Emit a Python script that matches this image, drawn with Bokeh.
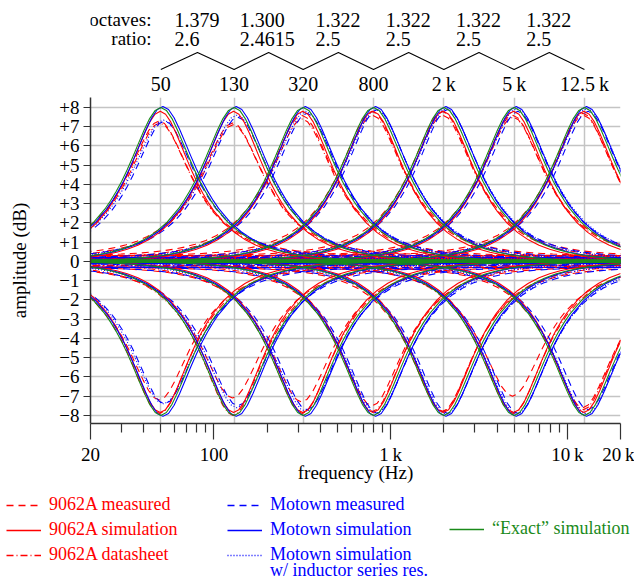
import math
from bokeh.plotting import figure
from bokeh.models import Range1d, FixedTicker, Legend, LegendItem, ColumnDataSource
from bokeh.layouts import column
from bokeh.embed import file_html
from bokeh.resources import INLINE
from bokeh.core.properties import value

# ---------------- data ----------------
bands = [50, 130, 320, 800, 2000, 5000, 12500]
band_labels = ["50", "130", "320", "800", "2\u2009k", "5\u2009k", "12.5\u2009k"]
octaves_vals = ["1.379", "1.300", "1.322", "1.322", "1.322", "1.322"]
ratio_vals = ["2.6", "2.4615", "2.5", "2.5", "2.5", "2.5"]

x_ticks = [20, 100, 1000, 10000, 20000]
x_tick_labels = ["20", "100", "1\u2009k", "10\u2009k", "20\u2009k"]
x_minor = [30, 40, 50, 60, 70, 80, 90, 200, 300, 400, 500, 600, 700, 800, 900,
           2000, 3000, 4000, 5000, 6000, 7000, 8000, 9000]
y_ticks = [-8, -7, -6, -5, -4, -3, -2, -1, 0, 1, 2, 3, 4, 5, 6, 7, 8]
y_tick_labels = ["\u22128", "\u22127", "\u22126", "\u22125", "\u22124", "\u22123", "\u22122", "\u22121",
                 "0", "+1", "+2", "+3", "+4", "+5", "+6", "+7", "+8"]

# response shape (fraction of peak dB) vs distance from band centre (octaves)
profile_oct = [0, 0.1, 0.2, 0.3, 0.4, 0.5, 0.6, 0.7, 0.8, 0.9, 1.0, 1.2, 1.4, 1.6, 1.8,
               2.0, 2.2, 2.4, 2.6, 2.8, 3.0, 3.2, 3.4, 3.6, 3.8, 4.0, 4.5, 5.0, 6.0, 8.0, 10.0]
profile_frac = [1.000, 0.981, 0.928, 0.852, 0.767, 0.680, 0.597, 0.521, 0.454, 0.394, 0.341,
                0.256, 0.192, 0.144, 0.1085, 0.0818, 0.0616, 0.0465, 0.0352, 0.0266, 0.0201,
                0.0152, 0.0116, 0.0087, 0.0066, 0.0050, 0.0025, 0.0012, 0.0003, 0.0, 0.0]

# per series: peak boost, peak cut (dB), skirt levels, zero-setting levels
ds_boost = [7.2, 7.1, 7.4, 7.6, 7.6, 7.5, 7.6]
ds_cut = [-7.9, -8.0, -7.9, -7.8, -7.8, -7.9, -7.7]
ds_skirt = [0.2, -0.2]

meas9_boost = [7.3, 7.2, 7.6, 7.8, 7.8, 7.6, 7.7]
meas9_cut = [-7.2, -7.1, -7.3, -7.5, -7.8, -7.0, -7.6]
meas9_skirt = [0.3, -0.3]
meas9_flat = [0.35, 0.3, 0.35, 0.3, 0.35, 0.35, 0.3]
meas9_flat_base = 0.15

sim9_boost = [7.8, 7.8, 7.8, 7.8, 7.8, 7.8, 7.8]
sim9_cut = [-7.85, -7.85, -7.85, -7.85, -7.85, -7.85, -7.85]
sim9_flat = [0.08, 0.08, 0.08, 0.08, 0.08, 0.08, 0.08]

motm_boost = [7.3, 7.5, 7.7, 7.9, 7.9, 7.8, 7.8]
motm_cut = [-7.4, -7.5, -7.7, -7.9, -7.9, -7.9, -7.7]
motm_skirt = [0.2, -0.3]
motm_flat = [-0.25, -0.25, -0.25, -0.25, -0.25, -0.25, -0.25]
motm_flat_base = -0.1

mots_boost = [8.05, 8.05, 8.05, 8.05, 8.05, 8.05, 8.05]
mots_cut = [-8.05, -8.05, -8.05, -8.05, -8.05, -8.05, -8.05]
mots_flat = [-0.05, -0.05, -0.05, -0.05, -0.05, -0.05, -0.05]

motr_boost = [7.35, 7.6, 7.8, 7.9, 7.95, 7.95, 7.95]
motr_cut = [-7.4, -7.6, -7.8, -7.9, -7.95, -7.95, -7.95]
motr_skirt = [0.1, -0.1]
motr_flat = [0.12, 0.12, 0.12, 0.12, 0.12, 0.12, 0.12]
motr_flat_base = 0.05

exact_boost = [8.0, 8.0, 8.0, 8.0, 8.0, 8.0, 8.0]
exact_cut = [-8.0, -8.0, -8.0, -8.0, -8.0, -8.0, -8.0]
exact_flat = [0.0, 0.0, 0.0, 0.0, 0.0, 0.0, 0.0]

RED = "#ff0000"
BLUE = "#0000ff"
GREEN = "#1a8a1a"
FONT = "Liberation Serif"

# ---------------- layout constants (pixels) ----------------
LEFT, FW, RIGHT = 90, 530, 14
W = LEFT + FW + RIGHT
HDR_H, FH, BOT, LEG_H = 97, 326, 70, 89

oct_full = [-o for o in profile_oct[:0:-1]] + profile_oct
frac_full = profile_frac[:0:-1] + profile_frac


def band_curves(shift, width, peaks, base):
    xs, ys = [], []
    for fc, pk in zip(bands, peaks):
        xs.append([fc * 2 ** (shift + width * d) for d in oct_full])
        ys.append([base + (pk - base) * f for f in frac_full])
    return xs, ys


series = [
    dict(key="ds", color=RED, dash="7 3 1 3", shift=-0.02, width=1.0,
         boost=ds_boost, cut=ds_cut, skirt=ds_skirt, flat=None, fbase=0.0, fw=1),
    dict(key="meas9", color=RED, dash="7 5", shift=-0.03, width=1.0,
         boost=meas9_boost, cut=meas9_cut, skirt=meas9_skirt, flat=meas9_flat, fbase=meas9_flat_base, fw=1),
    dict(key="motm", color=BLUE, dash="7 5", shift=0.07, width=1.0,
         boost=motm_boost, cut=motm_cut, skirt=motm_skirt, flat=motm_flat, fbase=motm_flat_base, fw=1),
    dict(key="motr", color=BLUE, dash="1 2", shift=0.05, width=1.05,
         boost=motr_boost, cut=motr_cut, skirt=motr_skirt, flat=motr_flat, fbase=motr_flat_base, fw=1),
    dict(key="sim9", color=RED, dash="solid", shift=-0.01, width=1.0,
         boost=sim9_boost, cut=sim9_cut, skirt=[0.0, 0.0], flat=sim9_flat, fbase=0.0, fw=1.2),
    dict(key="mots", color=BLUE, dash="solid", shift=0.04, width=1.05,
         boost=mots_boost, cut=mots_cut, skirt=[0.0, 0.0], flat=mots_flat, fbase=0.0, fw=1.4),
    dict(key="exact", color=GREEN, dash="solid", shift=0.0, width=1.05,
         boost=exact_boost, cut=exact_cut, skirt=[0.0, 0.0], flat=exact_flat, fbase=0.0, fw=3.2),
]

# ---------------- main plot ----------------
p = figure(x_axis_type="log", x_range=Range1d(20, 20000), y_range=Range1d(-8.42, 8.52),
           frame_width=FW, frame_height=FH, min_border_left=LEFT, min_border_right=RIGHT,
           min_border_top=0, min_border_bottom=BOT,
           output_backend="svg", toolbar_location=None)
p.outline_line_color = None

curve_data = {}
for s in series:
    bx, by = band_curves(s["shift"], s["width"], s["boost"], s["skirt"][0])
    cx, cy = band_curves(s["shift"], s["width"], s["cut"], s["skirt"][1])
    curve_data[s["key"]] = (bx[0], by[0])
    p.multi_line(xs=bx + cx, ys=by + cy, line_color=s["color"], line_width=1.1,
                 line_dash=s["dash"])
    if s["flat"] is not None:
        fx, fy = band_curves(s["shift"], s["width"], s["flat"], s["fbase"])
        p.multi_line(xs=fx, ys=fy, line_color=s["color"], line_width=s["fw"], line_dash=s["dash"])

p.xaxis.ticker = FixedTicker(ticks=x_ticks, minor_ticks=x_minor)
p.xaxis.major_label_overrides = dict(zip(x_ticks, x_tick_labels))
p.xgrid.ticker = FixedTicker(ticks=bands)
p.yaxis.ticker = FixedTicker(ticks=y_ticks)
p.yaxis.major_label_overrides = dict(zip(y_ticks, y_tick_labels))
p.ygrid.ticker = FixedTicker(ticks=y_ticks)
p.grid.grid_line_color = "#c4c4c4"
p.grid.grid_line_width = 1.5

for ax in (p.xaxis[0], p.yaxis[0]):
    ax.axis_line_color = "#333333"
    ax.axis_line_width = 1.5
    ax.major_tick_line_color = "#333333"
    ax.minor_tick_line_color = "#333333"
    ax.major_tick_line_width = 1.2
    ax.minor_tick_line_width = 1.2
    ax.major_tick_in = 0
    ax.minor_tick_in = 0
    ax.major_label_text_font = FONT
    ax.major_label_text_font_size = "19px"
    ax.major_label_text_color = "black"
    ax.axis_label_text_font = FONT
    ax.axis_label_text_font_size = "19px"
    ax.axis_label_text_font_style = "normal"
    ax.axis_label_text_color = "black"

p.xaxis.major_tick_out = 16
p.xaxis.minor_tick_out = 9
p.xaxis.major_label_standoff = 4
p.xaxis.axis_label = "frequency (Hz)"
p.xaxis.axis_label_standoff = -6
p.yaxis.major_tick_out = 7
p.yaxis.minor_tick_out = 0
p.yaxis.major_label_standoff = 4
p.yaxis.axis_label = "amplitude (dB)"
p.yaxis.axis_label_standoff = 26

# ---------------- header (band labels, octave table) ----------------
h = figure(x_axis_type="log", x_range=p.x_range, y_range=Range1d(0, HDR_H),
           frame_width=FW, frame_height=HDR_H, min_border_left=LEFT, min_border_right=RIGHT,
           min_border_top=0, min_border_bottom=0, x_axis_location=None, y_axis_location=None,
           output_backend="svg", toolbar_location=None)
h.outline_line_color = None
h.grid.visible = False

mids = [math.sqrt(a * b) for a, b in zip(bands[:-1], bands[1:])]
zig_x, zig_y = [], []
for i, b in enumerate(bands):
    zig_x.append(b)
    zig_y.append(28)
    if i < len(mids):
        zig_x.append(mids[i])
        zig_y.append(45)
h.line(zig_x, zig_y, line_color="black", line_width=1.1)

h.text(x=bands, y=[14] * len(bands), text=band_labels, text_align="center",
       text_baseline="middle", text_font=value(FONT), text_font_size="20px", text_color="black")

col_off = [-23, -29, -23, -23, -23, -23]
tsrc = ColumnDataSource(dict(x=mids, xo=col_off, oc=octaves_vals, ra=ratio_vals,
                             y1=[78] * 6, y2=[59] * 6))
h.text(x="x", y="y1", text="oc", x_offset="xo", source=tsrc, text_align="left",
       text_baseline="middle", text_font=value(FONT), text_font_size="20px", text_color="black")
h.text(x="x", y="y2", text="ra", x_offset="xo", source=tsrc, text_align="left",
       text_baseline="middle", text_font=value(FONT), text_font_size="20px", text_color="black")
h.text(x=[mids[0], mids[0]], y=[78, 59], text=["octaves:", "ratio:"], x_offset=-46,
       text_align="right", text_baseline="middle", text_font=value(FONT),
       text_font_size="19px", text_color="black")

# ---------------- legend panel ----------------
lg = figure(x_axis_type="log", x_range=Range1d(20, 20000), y_range=Range1d(100, 101),
            frame_width=W, frame_height=LEG_H, min_border_left=0, min_border_right=0,
            min_border_top=0, min_border_bottom=0, x_axis_location=None, y_axis_location=None,
            output_backend="svg", toolbar_location=None)
lg.outline_line_color = None
lg.grid.visible = False

keys = {}
for s in series:
    x_, y_ = curve_data[s["key"]]
    keys[s["key"]] = lg.line(x=x_, y=y_, line_color=s["color"], line_alpha=1.0,
                             line_width=1.4, line_dash=s["dash"])
x_, y_ = curve_data["motr"]
blank = lg.line(x=x_, y=y_, line_color=BLUE, line_alpha=0)


def make_legend(items, color, loc, row_h=20):
    L = Legend(items=items, location=loc, orientation="vertical")
    L.border_line_color = None
    L.background_fill_alpha = 0
    L.padding = 0
    L.margin = 0
    L.spacing = 4
    L.glyph_width = 35
    L.glyph_height = row_h
    L.label_height = row_h
    L.label_standoff = 8
    L.label_text_font = FONT
    L.label_text_font_size = "18px"
    L.label_text_color = color
    return L


leg1 = make_legend([
    LegendItem(label="9062A measured", renderers=[keys["meas9"]]),
    LegendItem(label="9062A simulation", renderers=[keys["sim9"]]),
    LegendItem(label="9062A datasheet", renderers=[keys["ds"]]),
], RED, (6, 17))
leg2 = make_legend([
    LegendItem(label="Motown measured", renderers=[keys["motm"]]),
    LegendItem(label="Motown simulation", renderers=[keys["mots"]]),
    LegendItem(label="Motown simulation", renderers=[keys["motr"]]),
], BLUE, (227, 17))
leg4 = make_legend([
    LegendItem(label="w/ inductor series res.", renderers=[blank]),
], BLUE, (227, 1), row_h=16)
leg3 = make_legend([
    LegendItem(label="\u201cExact\u201d simulation", renderers=[keys["exact"]]),
], GREEN, (449, 43))
for L in (leg1, leg2, leg4, leg3):
    lg.add_layout(L)

layout = column(h, p, lg, spacing=0)
open("out.html", "w").write(file_html(layout, INLINE))
